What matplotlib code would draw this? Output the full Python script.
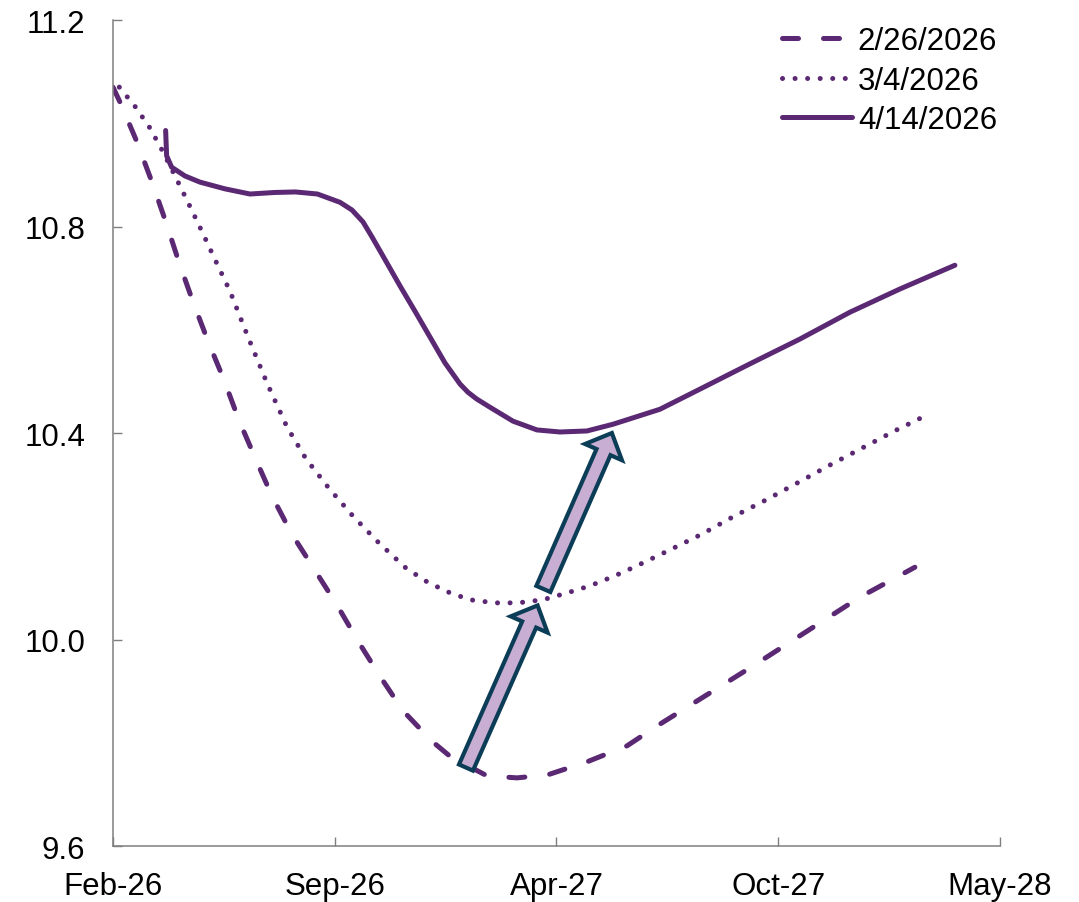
import matplotlib
matplotlib.use("Agg")
import matplotlib.pyplot as plt
from matplotlib.patches import FancyArrowPatch, ArrowStyle

plt.rcParams["font.family"] = ["Liberation Sans", "DejaVu Sans"]

# x values are days after 26 Feb 2026
tick_days = [0, 200, 400, 600, 800]
tick_labels = ["Feb-26", "Sep-26", "Apr-27", "Oct-27", "May-28"]
y_ticks = [9.6, 10.0, 10.4, 10.8, 11.2]

days_0226 = [0, 7.2, 21.6, 35.2, 47.8, 59.5, 72.2, 85.7, 100.1, 113.6, 128.0,
             143.4, 161.4, 181.3, 202.0, 221.0, 240.8, 261.6, 287.7, 303.9,
             337.3, 364.4, 392.3, 427.5, 463.6, 493.3, 574.5, 673.7, 723.3]
vals_0226 = [11.070, 11.037, 10.964, 10.886, 10.808, 10.731, 10.654, 10.578,
             10.503, 10.425, 10.353, 10.278, 10.204, 10.137, 10.067, 9.997,
             9.929, 9.862, 9.803, 9.774, 9.736, 9.732, 9.738, 9.763, 9.794,
             9.836, 9.945, 10.082, 10.140]

days_0304 = [5.7, 19.8, 32.7, 43.3, 53.2, 63.1, 72.8, 82.1, 91.4, 105.5, 121.8,
             138.9, 156.9, 174.1, 194.8, 216.5, 239.0, 263.4, 281.4, 301.0,
             321.9, 344.5, 365.3, 387.8, 409.2, 430.2, 451.2, 470.8, 500.8,
             531.0, 559.5, 589.6, 618.7, 647.6, 676.7, 706.8, 736.2]
vals_0304 = [11.070, 11.033, 10.993, 10.952, 10.910, 10.867, 10.824, 10.782,
             10.739, 10.675, 10.586, 10.497, 10.412, 10.350, 10.293, 10.239,
             10.189, 10.140, 10.114, 10.093, 10.077, 10.071, 10.071, 10.077,
             10.090, 10.104, 10.122, 10.141, 10.172, 10.204, 10.238, 10.271,
             10.305, 10.339, 10.372, 10.406, 10.437]

days_0414 = [47.5, 48.4, 52.9, 64.9, 78.5, 101.0, 123.6, 146.1, 164.6, 184.4,
             204.7, 215.6, 225.5, 233.6, 243.5, 258.9, 272.4, 285.9, 299.4,
             313.0, 320.2, 328.0, 340.0, 360.8, 382.4, 403.2, 427.5, 451.0,
             493.3, 529.4, 574.5, 619.6, 664.7, 709.8, 759.4]
vals_0414 = [10.986, 10.937, 10.915, 10.898, 10.886, 10.873, 10.863, 10.866,
             10.867, 10.863, 10.847, 10.832, 10.809, 10.780, 10.743, 10.685,
             10.636, 10.586, 10.536, 10.495, 10.479, 10.466, 10.450, 10.423,
             10.406, 10.402, 10.404, 10.417, 10.446, 10.485, 10.534, 10.582,
             10.634, 10.679, 10.725]

# arrows: (start day, start value, end day, end value)
arrows = [(318.4, 9.752, 383.0, 10.066),
          (388.2, 10.098, 450.0, 10.400)]

purple = "#5b2873"
fig = plt.figure(figsize=(10.79, 9.03), dpi=100)
ax = fig.add_axes([0.1047, 0.062, 0.822, 0.9147])

lw = 3.6
ax.plot(days_0226, vals_0226, color=purple, lw=lw, dashes=(3.2, 5.0),
        dash_capstyle="round", dash_joinstyle="round", label="2/26/2026")
ax.plot(days_0304, vals_0304, color=purple, lw=lw, dashes=(0.01, 2.5),
        dash_capstyle="round", label="3/4/2026")
ax.plot(days_0414, vals_0414, color=purple, lw=lw, solid_capstyle="round",
        solid_joinstyle="round", label="4/14/2026")

style = ArrowStyle.Simple(head_length=15, head_width=29, tail_width=11)
for x0, y0, x1, y1 in arrows:
    arr = FancyArrowPatch((x0, y0), (x1, y1), arrowstyle=style,
                          mutation_scale=1, shrinkA=0, shrinkB=0,
                          facecolor="#c9aed4", edgecolor="#0c3d57",
                          linewidth=3.0, joinstyle="miter", zorder=5)
    ax.add_patch(arr)

ax.set_xlim(0, 800)
ax.set_ylim(9.6, 11.2)
ax.set_xticks(tick_days)
ax.set_xticklabels(tick_labels)
ax.set_yticks(y_ticks)
ax.set_yticklabels([f"{v:.1f}" for v in y_ticks])

for s in ["top", "right"]:
    ax.spines[s].set_visible(False)
for s in ["left", "bottom"]:
    ax.spines[s].set_color("#7f7f7f")
    ax.spines[s].set_linewidth(1.1)

ax.tick_params(axis="both", direction="in", length=6.5, width=1.0,
               color="#7f7f7f", labelsize=22.5, labelcolor="black")
ax.tick_params(axis="x", pad=18)
ax.tick_params(axis="y", pad=20)

leg = ax.legend(loc="upper right", frameon=False, fontsize=22.5,
                handlelength=2.24, handletextpad=0.2, labelspacing=0.3,
                borderaxespad=0.0, bbox_to_anchor=(1.011, 1.0075))

fig.savefig("out.png", dpi=100)
